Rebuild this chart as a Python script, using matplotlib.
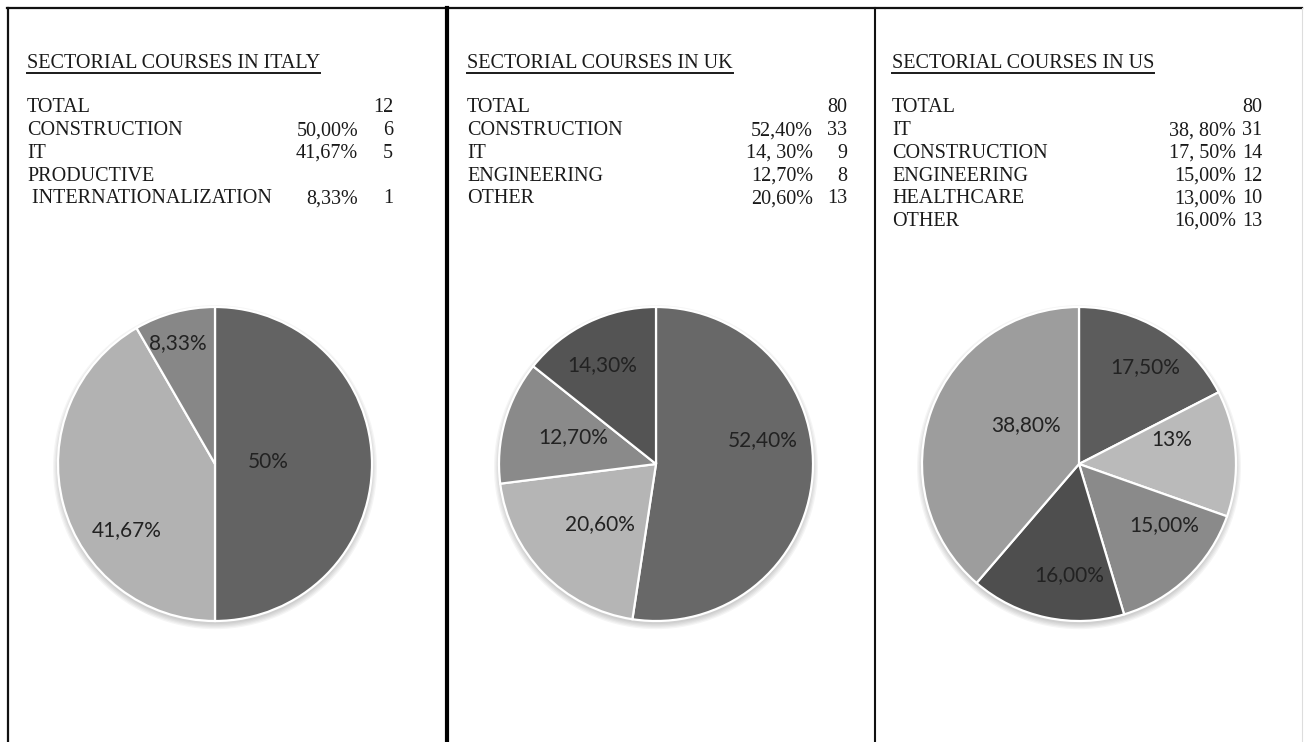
import matplotlib.pyplot as plt
from matplotlib.patches import Circle
from matplotlib.lines import Line2D

W, H = 1309, 742

# --- data -------------------------------------------------------------
italy_title = 'SECTORIAL COURSES IN ITALY'
italy_rows = ['TOTAL', 'CONSTRUCTION', 'IT', 'PRODUCTIVE', ' INTERNATIONALIZATION']
italy_pcts = ['', '50,00%', '41,67%', '', '8,33%']
italy_counts = ['12', '6', '5', '', '1']
# slices clockwise from 12 o'clock
italy_values = [50.0, 41.67, 8.33]
italy_labels = ['50%', '41,67%', '8,33%']

uk_title = 'SECTORIAL COURSES IN UK'
uk_rows = ['TOTAL', 'CONSTRUCTION', 'IT', 'ENGINEERING', 'OTHER']
uk_pcts = ['', '52,40%', '14, 30%', '12,70%', '20,60%']
uk_counts = ['80', '33', '9', '8', '13']
uk_values = [52.4, 20.6, 12.7, 14.3]
uk_labels = ['52,40%', '20,60%', '12,70%', '14,30%']

us_title = 'SECTORIAL COURSES IN US'
us_rows = ['TOTAL', 'IT', 'CONSTRUCTION', 'ENGINEERING', 'HEALTHCARE', 'OTHER']
us_pcts = ['', '38, 80%', '17, 50%', '15,00%', '13,00%', '16,00%']
us_counts = ['80', '31', '14', '12', '10', '13']
us_values = [17.5, 13.0, 15.0, 16.0, 38.8]
us_labels = ['17,50%', '13%', '15,00%', '16,00%', '38,80%']

# --- style / layout ---------------------------------------------------
italy_colors = ['#636363', '#b2b2b2', '#878787']
uk_colors = ['#686868', '#b5b5b5', '#8a8a8a', '#545454']
us_colors = ['#5c5c5c', '#bababa', '#8a8a8a', '#4e4e4e', '#9d9d9d']

# label offsets in units of pie radius
italy_lab_pos = [(0.34, 0.01), (-0.56, -0.42), (-0.24, 0.77)]
uk_lab_pos = [(0.68, 0.15), (-0.36, -0.38), (-0.53, 0.17), (-0.34, 0.63)]
us_lab_pos = [(0.42, 0.62), (0.59, 0.15), (0.54, -0.39), (-0.06, -0.71), (-0.34, 0.25)]

serif = 'Liberation Serif'
fs = 14.5
fig = plt.figure(figsize=(W / 100, H / 100), dpi=100)
fig.patch.set_facecolor('white')


def px(x, y):
    return x / W, 1 - y / H


# frame lines
for x0, x1, y0, y1, lw, c in [(7, 1302, 8, 8, 1.6, '#111111'),
                              (8, 8, 8, 742, 1.6, '#111111'),
                              (447, 447, 8, 742, 3.0, '#000000'),
                              (875, 875, 8, 742, 1.5, '#111111'),
                              (1302, 1302, 8, 742, 0.8, '#dddddd')]:
    fig.add_artist(Line2D([x0 / W, x1 / W], [1 - y0 / H, 1 - y1 / H],
                          transform=fig.transFigure, color=c, lw=lw))

renderer = fig.canvas.get_renderer()


def table(left, pct_right, cnt_right, title, rows, pcts, counts):
    t = fig.text(*px(left, 63), title, family=serif, fontsize=fs,
                 ha='left', va='center', color='#1a1a1a')
    bb = t.get_window_extent(renderer)
    fig.add_artist(Line2D([bb.x0 / W, bb.x1 / W], [1 - 73 / H, 1 - 73 / H],
                          transform=fig.transFigure, color='#1a1a1a', lw=1.4))
    for i, (r, p, c) in enumerate(zip(rows, pcts, counts)):
        y = 108 + i * 22.7
        fig.text(*px(left, y), r, family=serif, fontsize=fs, ha='left',
                 va='center', color='#1a1a1a')
        fig.text(*px(pct_right, y), p, family=serif, fontsize=fs, ha='right',
                 va='center', color='#1a1a1a')
        fig.text(*px(cnt_right, y), c, family=serif, fontsize=fs, ha='right',
                 va='center', color='#1a1a1a')


def pie(cx, cy, values, colors, labels, lab_pos):
    R = 157
    lim = 1.1
    ax = fig.add_axes([(cx - R * lim) / W, (H - cy - R * lim) / H,
                       2 * R * lim / W, 2 * R * lim / H])
    for k in range(5):
        ax.add_patch(Circle((0, -0.02), 1.0 + 0.008 * k, color='black',
                            alpha=0.04, lw=0, zorder=0))
    ax.pie(values, colors=colors, startangle=90, counterclock=False,
           wedgeprops=dict(edgecolor='white', linewidth=1.6))
    for lab, (dx, dy) in zip(labels, lab_pos):
        ax.text(dx, dy, lab, ha='center', va='center', fontsize=15,
                family='Lato', color='#222222')
    ax.set_xlim(-lim, lim)
    ax.set_ylim(-lim, lim)
    ax.axis('off')


table(27, 358, 393, italy_title, italy_rows, italy_pcts, italy_counts)
table(467, 813, 847, uk_title, uk_rows, uk_pcts, uk_counts)
table(892, 1236, 1262, us_title, us_rows, us_pcts, us_counts)

pie(215, 464, italy_values, italy_colors, italy_labels, italy_lab_pos)
pie(656, 464, uk_values, uk_colors, uk_labels, uk_lab_pos)
pie(1079, 464, us_values, us_colors, us_labels, us_lab_pos)

fig.savefig('out.png', dpi=100, facecolor='white')
